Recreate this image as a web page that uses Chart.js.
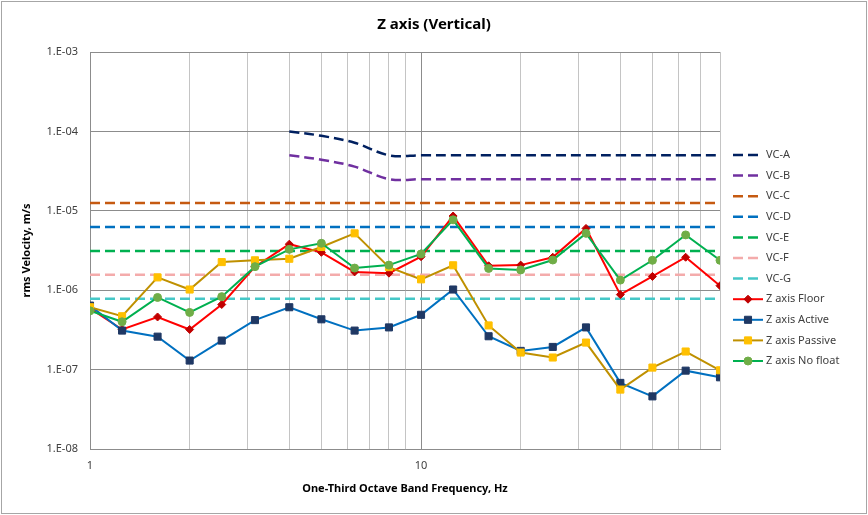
<!DOCTYPE html>
<html>
<head>
<meta charset="utf-8">
<script src="https://cdn.jsdelivr.net/npm/chart.js@4.4.0/dist/chart.umd.min.js"></script>
<style>
    html, body { margin: 0; padding: 0; background: #fff; }
    #wrap { width: 868px; height: 515px; }
</style>
</head>
<body>
<div id="wrap"><canvas id="zChart" width="868" height="515"></canvas></div>
<script>
// one-third octave band centre frequencies, Hz
const freqs = [1, 1.25, 1.6, 2, 2.5, 3.15, 4, 5, 6.3, 8, 10, 12.5, 16, 20, 25, 31.5, 40, 50, 63, 80];

// vibration criteria curves
const vcABFreqs = [4, 5, 6.3, 8, 10, 12.5, 16, 20, 25, 31.5, 40, 50, 63, 80];
const vcA = [1.0e-4, 8.8e-5, 7.2e-5, 5.0e-5, 5.0e-5, 5.0e-5, 5.0e-5, 5.0e-5, 5.0e-5, 5.0e-5, 5.0e-5, 5.0e-5, 5.0e-5, 5.0e-5];
const vcB = [5.0e-5, 4.4e-5, 3.6e-5, 2.5e-5, 2.5e-5, 2.5e-5, 2.5e-5, 2.5e-5, 2.5e-5, 2.5e-5, 2.5e-5, 2.5e-5, 2.5e-5, 2.5e-5];
const vcFlatFreqs = [1, 80];
const vcC = [1.25e-5, 1.25e-5];
const vcD = [6.25e-6, 6.25e-6];
const vcE = [3.12e-6, 3.12e-6];
const vcF = [1.56e-6, 1.56e-6];
const vcG = [7.8e-7, 7.8e-7];

// measured rms velocity, m/s
const floorVals   = [5.9e-7, 3.2e-7, 4.6e-7, 3.2e-7, 6.6e-7, 1.98e-6, 3.8e-6, 3.0e-6, 1.7e-6, 1.64e-6, 2.64e-6, 8.6e-6, 2.03e-6, 2.07e-6, 2.6e-6, 6.0e-6, 8.8e-7, 1.49e-6, 2.6e-6, 1.14e-6];
const activeVals  = [6.4e-7, 3.1e-7, 2.6e-7, 1.3e-7, 2.32e-7, 4.2e-7, 6.1e-7, 4.3e-7, 3.1e-7, 3.4e-7, 4.9e-7, 1.02e-6, 2.63e-7, 1.72e-7, 1.93e-7, 3.4e-7, 6.8e-8, 4.6e-8, 9.7e-8, 8.0e-8];
const passiveVals = [6.1e-7, 4.7e-7, 1.45e-6, 1.02e-6, 2.26e-6, 2.38e-6, 2.49e-6, 3.5e-6, 5.2e-6, 1.95e-6, 1.37e-6, 2.06e-6, 3.6e-7, 1.64e-7, 1.42e-7, 2.19e-7, 5.6e-8, 1.06e-7, 1.69e-7, 9.8e-8];
const noFloatVals = [5.5e-7, 4.0e-7, 8.1e-7, 5.25e-7, 8.3e-7, 1.98e-6, 3.27e-6, 3.9e-6, 1.9e-6, 2.07e-6, 2.86e-6, 7.7e-6, 1.88e-6, 1.8e-6, 2.4e-6, 5.2e-6, 1.34e-6, 2.38e-6, 4.97e-6, 2.38e-6];

const yTicks = [1e-8, 1e-7, 1e-6, 1e-5, 1e-4, 1e-3];
const xTicks = [1, 2, 3, 4, 5, 6, 7, 8, 9, 10, 20, 30, 40, 50, 60, 70, 80];
const xLabels = [1, 10];

const FONT = "'Noto Sans', 'Noto Sans CJK KR', sans-serif";
const DASH = [10, 5];

function pts(xs, ys) {
    return xs.map((x, i) => ({ x: x, y: ys[i] }));
}

function vcSet(label, xs, ys, color, smooth) {
    return {
        label: label,
        data: pts(xs, ys),
        borderColor: color,
        backgroundColor: color,
        borderWidth: 2.5,
        borderDash: DASH,
        pointRadius: 0,
        tension: smooth ? 0.35 : 0
    };
}

function measSet(label, ys, lineColor, markColor, style, radius) {
    return {
        label: label,
        data: pts(freqs, ys),
        borderColor: lineColor,
        backgroundColor: markColor,
        borderWidth: 2,
        pointStyle: style,
        pointRadius: radius,
        pointBorderColor: markColor,
        pointBackgroundColor: markColor,
        pointBorderWidth: 1,
        tension: 0
    };
}

const datasets = [
    vcSet('VC-A', vcABFreqs, vcA, '#002060', true),
    vcSet('VC-B', vcABFreqs, vcB, '#7030A0', true),
    vcSet('VC-C', vcFlatFreqs, vcC, '#C55A11', false),
    vcSet('VC-D', vcFlatFreqs, vcD, '#0070C0', false),
    vcSet('VC-E', vcFlatFreqs, vcE, '#00B050', false),
    vcSet('VC-F', vcFlatFreqs, vcF, '#F4ABAB', false),
    vcSet('VC-G', vcFlatFreqs, vcG, '#45C7C7', false),
    measSet('Z axis Floor', floorVals, '#FF0000', '#C00000', 'rectRot', 4),
    measSet('Z axis Active', activeVals, '#0070C0', '#1F3864', 'rect', 5),
    measSet('Z axis Passive', passiveVals, '#BF9000', '#FFC000', 'rect', 5),
    measSet('Z axis No float', noFloatVals, '#00B050', '#70AD47', 'circle', 4)
];
// later series on top, like the spreadsheet
datasets.forEach((d, i) => { d.order = -i; });

function drawMarker(ctx, style, r, x, y, color) {
    ctx.save();
    ctx.fillStyle = color;
    ctx.strokeStyle = color;
    ctx.lineWidth = 1;
    ctx.setLineDash([]);
    ctx.beginPath();
    if (style === 'circle') {
        ctx.arc(x, y, r, 0, Math.PI * 2);
    } else if (style === 'rect') {
        const s = r * Math.SQRT1_2;
        ctx.rect(x - s, y - s, 2 * s, 2 * s);
    } else if (style === 'rectRot') {
        ctx.moveTo(x, y - r);
        ctx.lineTo(x + r, y);
        ctx.lineTo(x, y + r);
        ctx.lineTo(x - r, y);
        ctx.closePath();
    }
    ctx.fill();
    ctx.stroke();
    ctx.restore();
}

// title centred on the whole canvas, legend on the right, chart frame
const decorations = {
    id: 'decorations',
    afterDraw(chart) {
        const ctx = chart.ctx;

        ctx.save();
        ctx.fillStyle = '#000';
        ctx.font = 'bold 15px ' + FONT;
        ctx.textAlign = 'center';
        ctx.textBaseline = 'middle';
        ctx.fillText('Z axis (Vertical)', chart.width / 2, 25);
        ctx.restore();

        const x0 = 733, x1 = 763, yStart = 155, step = 20.6;
        chart.data.datasets.forEach((d, i) => {
            const y = yStart + i * step;
            ctx.save();
            ctx.strokeStyle = d.borderColor;
            ctx.lineWidth = d.borderWidth;
            ctx.setLineDash(d.borderDash || []);
            ctx.beginPath();
            ctx.moveTo(x0, y);
            ctx.lineTo(x1, y);
            ctx.stroke();
            ctx.restore();
            if (d.pointRadius) {
                drawMarker(ctx, d.pointStyle, d.pointRadius, (x0 + x1) / 2, y, d.pointBackgroundColor);
            }
            ctx.save();
            ctx.fillStyle = '#404040';
            ctx.font = '11px ' + FONT;
            ctx.textBaseline = 'middle';
            ctx.textAlign = 'left';
            ctx.fillText(d.label, x1 + 3, y);
            ctx.restore();
        });

        ctx.save();
        ctx.strokeStyle = '#a6a6a6';
        ctx.lineWidth = 1;
        ctx.strokeRect(1.5, 1.5, chart.width - 3, chart.height - 3);
        ctx.restore();
    }
};

const ctx = document.getElementById('zChart').getContext('2d');
new Chart(ctx, {
    type: 'line',
    data: { datasets: datasets },
    options: {
        responsive: false,
        animation: false,
        layout: { padding: { left: 0, right: 148, top: 52, bottom: 0 } },
        plugins: {
            legend: { display: false },
            tooltip: { enabled: false },
            title: { display: false }
        },
        scales: {
            x: {
                type: 'logarithmic',
                min: 1,
                max: 80,
                afterBuildTicks: scale => { scale.ticks = xTicks.map(v => ({ value: v })); },
                afterFit: scale => { scale.height = 66; },
                ticks: {
                    autoSkip: false,
                    maxRotation: 0,
                    padding: 10,
                    color: '#404040',
                    font: { family: FONT, size: 11 },
                    callback: value => xLabels.includes(value) ? String(value) : ''
                },
                grid: {
                    drawTicks: false,
                    color: c => (c.tick && xLabels.includes(c.tick.value)) ? '#8c8c8c' : '#c4c4c4',
                    lineWidth: 1
                },
                border: { color: '#8c8c8c' },
                title: {
                    display: true,
                    text: 'One-Third Octave Band Frequency, Hz',
                    color: '#000',
                    font: { family: FONT, size: 11, weight: 'bold' },
                    padding: { top: 0, bottom: 20 }
                }
            },
            y: {
                type: 'logarithmic',
                min: 1e-8,
                max: 1e-3,
                afterBuildTicks: scale => { scale.ticks = yTicks.map(v => ({ value: v })); },
                afterFit: scale => { scale.width = 90; },
                ticks: {
                    padding: 12,
                    color: '#404040',
                    font: { family: FONT, size: 11 },
                    callback: value => {
                        const e = Math.round(Math.log10(value));
                        return '1.E' + (e < 0 ? '-' : '+') + String(Math.abs(e)).padStart(2, '0');
                    }
                },
                grid: { drawTicks: false, color: '#8c8c8c', lineWidth: 1 },
                border: { color: '#8c8c8c' },
                title: {
                    display: true,
                    text: 'rms Velocity, m/s',
                    color: '#000',
                    font: { family: FONT, size: 11, weight: 'bold' },
                    padding: { top: 20, bottom: 0 }
                }
            }
        }
    },
    plugins: [decorations]
});
</script>
</body>
</html>
